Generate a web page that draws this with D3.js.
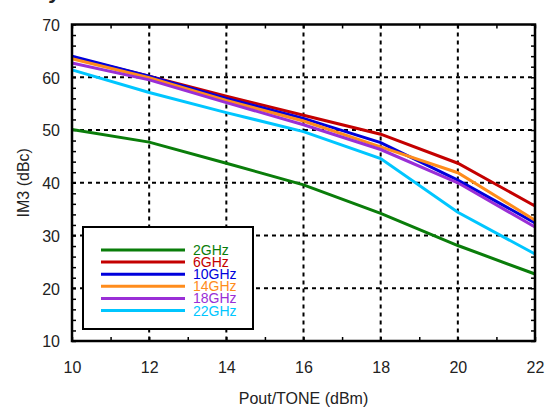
<!DOCTYPE html>
<html>
<head>
<meta charset="utf-8">
<script src="https://cdn.jsdelivr.net/npm/d3@7"></script>
<style>
  html, body { margin: 0; padding: 0; background: #fff; }
  svg { display: block; }
</style>
</head>
<body>
<svg id="chart" width="549" height="409"></svg>
<script>
// ---- data ----
const xValues = [10, 12, 14, 16, 18, 20, 22];
const seriesNames = ["2GHz", "6GHz", "10GHz", "14GHz", "18GHz", "22GHz"];
const s2GHz  = [50.1, 47.7, 43.7, 39.6, 34.2, 28.1, 22.7];
const s6GHz  = [63.8, 60.2, 56.4, 52.8, 49.2, 43.7, 35.6];
const s10GHz = [64.0, 60.2, 56.0, 52.2, 47.6, 40.5, 32.4];
const s14GHz = [63.5, 59.9, 55.6, 51.7, 46.8, 41.9, 32.9];
const s18GHz = [62.7, 59.5, 55.2, 51.0, 46.3, 40.0, 31.6];
const s22GHz = [61.4, 57.1, 53.3, 49.7, 44.6, 34.4, 26.5];
const seriesValues = [s2GHz, s6GHz, s10GHz, s14GHz, s18GHz, s22GHz];
const seriesColors = ["#0a7d0a", "#c40000", "#0000dc", "#ff8c1c", "#9a2fd6", "#00c6ff"];
const xTicks = [10, 12, 14, 16, 18, 20, 22];
const yTicks = [10, 20, 30, 40, 50, 60, 70];
const xLabel = "Pout/TONE (dBm)";
const yLabel = "IM3 (dBc)";

// ---- layout ----
const L = 72, R = 535, T = 24.5, B = 341;
const svg = d3.select("#chart");
const x = d3.scaleLinear().domain([10, 22]).range([L, R]);
const y = d3.scaleLinear().domain([10, 70]).range([B, T]);
const font = "'Liberation Sans', Arial, Helvetica, sans-serif";

// title fragment (cut off at top)
svg.append("text").attr("x", 50).attr("y", -2)
  .attr("font-family", font).attr("font-size", 22).attr("font-weight", "bold")
  .attr("font-style", "italic").attr("fill", "#222").text("y");

// grid
const grid = svg.append("g");
grid.selectAll("line.gx").data(xTicks.slice(1, -1)).join("line")
  .attr("x1", d => x(d)).attr("x2", d => x(d)).attr("y1", T).attr("y2", B)
  .attr("stroke", "#000").attr("stroke-width", 2).attr("stroke-dasharray", "4,4");
grid.selectAll("line.gy").data(yTicks.slice(1, -1)).join("line")
  .attr("y1", d => y(d)).attr("y2", d => y(d)).attr("x1", L).attr("x2", R)
  .attr("stroke", "#000").attr("stroke-width", 2).attr("stroke-dasharray", "4,4");

// minor ticks via axes (inward)
const xMinor = d3.range(10, 22.01, 1);
const yMinor = d3.range(10, 70.01, 2);
function styleAxis(g) {
  g.select(".domain").remove();
  g.selectAll(".tick line").attr("stroke", "#000").attr("stroke-width", 1.5);
  g.selectAll(".tick text").remove();
}
svg.append("g").attr("transform", `translate(0,${B})`)
  .call(d3.axisTop(x).tickValues(xMinor).tickSize(4)).call(styleAxis);
svg.append("g").attr("transform", `translate(0,${T})`)
  .call(d3.axisBottom(x).tickValues(xMinor).tickSize(4)).call(styleAxis);
svg.append("g").attr("transform", `translate(${L},0)`)
  .call(d3.axisRight(y).tickValues(yMinor).tickSize(4)).call(styleAxis);
svg.append("g").attr("transform", `translate(${R},0)`)
  .call(d3.axisLeft(y).tickValues(yMinor).tickSize(4)).call(styleAxis);

// series lines
const line = d3.line().x((d, i) => x(xValues[i])).y(d => y(d));
svg.append("g").selectAll("path").data(seriesValues).join("path")
  .attr("d", d => line(d)).attr("fill", "none")
  .attr("stroke", (d, i) => seriesColors[i]).attr("stroke-width", 3)
  .attr("stroke-linejoin", "miter");

// frame
svg.append("rect").attr("x", L).attr("y", T).attr("width", R - L).attr("height", B - T)
  .attr("fill", "none").attr("stroke", "#000").attr("stroke-width", 2.5);

// tick labels
const xAxisG = svg.append("g").attr("transform", `translate(0,${B})`)
  .call(d3.axisBottom(x).tickValues(xTicks).tickSize(0).tickPadding(0));
xAxisG.select(".domain").remove();
xAxisG.selectAll(".tick text").attr("y", 32).attr("dy", 0)
  .attr("font-family", font).attr("font-size", 16).attr("fill", "#222");

const yAxisG = svg.append("g").attr("transform", `translate(${L},0)`)
  .call(d3.axisLeft(y).tickValues(yTicks).tickSize(0).tickPadding(0));
yAxisG.select(".domain").remove();
yAxisG.selectAll(".tick text").attr("x", -12).attr("dy", "0.36em")
  .attr("font-family", font).attr("font-size", 16).attr("fill", "#222");

// axis titles
svg.append("text").attr("x", (L + R) / 2).attr("y", 404).attr("text-anchor", "middle")
  .attr("font-family", font).attr("font-size", 16).attr("fill", "#222").text(xLabel);
svg.append("text").attr("transform", `translate(29,${(T + B) / 2}) rotate(-90)`)
  .attr("text-anchor", "middle")
  .attr("font-family", font).attr("font-size", 16).attr("fill", "#222").text(yLabel);

// legend
const lg = svg.append("g");
lg.append("rect").attr("x", 83).attr("y", 227).attr("width", 170).attr("height", 102)
  .attr("fill", "#fff").attr("stroke", "#000").attr("stroke-width", 2);
const legY = d3.scalePoint().domain(seriesNames).range([250, 310.5]);
const items = lg.selectAll("g.item").data(seriesNames).join("g");
items.append("line").attr("x1", 101).attr("x2", 185)
  .attr("y1", d => legY(d)).attr("y2", d => legY(d))
  .attr("stroke", (d, i) => seriesColors[i]).attr("stroke-width", 3);
items.append("text").attr("x", 193).attr("y", d => legY(d)).attr("dy", "0.36em")
  .attr("font-family", font).attr("font-size", 14)
  .attr("fill", (d, i) => seriesColors[i]).text(d => d);
</script>
</body>
</html>
